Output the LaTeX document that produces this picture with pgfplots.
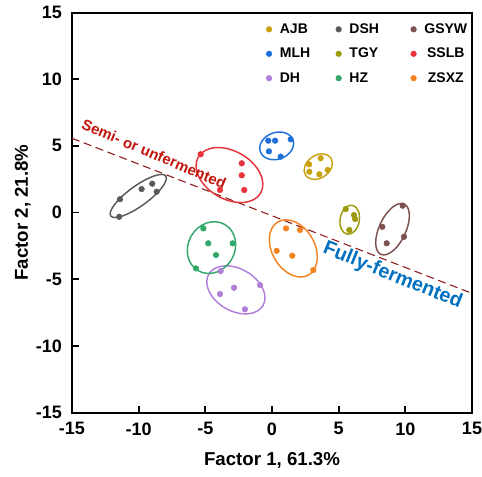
\documentclass[border=0pt]{standalone}
\usepackage{pgfplots}
\pgfplotsset{compat=1.18}
\usepackage{fontspec}
\setmainfont{Liberation Sans}

\definecolor{cAJB}{RGB}{201,160,16}
\definecolor{cDSH}{RGB}{90,90,90}
\definecolor{cGSYW}{RGB}{125,80,80}
\definecolor{cMLH}{RGB}{30,111,217}
\definecolor{cTGY}{RGB}{156,154,10}
\definecolor{cSSLB}{RGB}{232,50,60}
\definecolor{cDH}{RGB}{176,126,216}
\definecolor{cHZ}{RGB}{51,168,107}
\definecolor{cZSXZ}{RGB}{245,130,32}
\definecolor{splitline}{RGB}{139,26,26}
\definecolor{semired}{RGB}{192,20,10}
\definecolor{fullblue}{RGB}{0,112,192}

% confidence ellipse: colour, cx, cy, semi-axes (axis units, 1 unit = 10pt), angle
\newcommand{\grp}[6]{%
  \draw[#1, line width=1.1pt, rotate around={#6:(axis cs:#2,#3)}]
    (axis cs:#2,#3) ellipse [x radius=#4*10pt, y radius=#5*10pt];}

\begin{document}
\begin{tikzpicture}
\begin{axis}[
  scale only axis, width=300pt, height=300pt,
  xmin=-15, xmax=15, ymin=-15, ymax=15,
  xtick={-15,-10,...,15}, ytick={-15,-10,...,15},
  xtick pos=lower, ytick pos=left,
  tick align=inside, major tick length=5pt,
  axis line style={line width=1.5pt},
  tick style={line width=1.3pt, black},
  /pgf/number format/assume math mode=true,
  tick label style={font=\fontsize{13.5}{16}\selectfont\bfseries},
  xticklabel style={yshift=-4pt},
  yticklabel style={xshift=-4pt},
  label style={font=\fontsize{14}{17}\selectfont\bfseries},
  xlabel style={yshift=-6pt},
  ylabel style={yshift=-3pt},
  xlabel={Factor 1, 61.3\%}, ylabel={Factor 2, 21.8\%},
  every axis plot/.append style={only marks, mark=*, mark size=2.1pt},
  legend columns=3,
  legend style={draw=none, fill=none, at={(axis cs:-0.75,14.6)}, anchor=north west,
    font=\fontsize{10.5}{12}\selectfont\bfseries,
    row sep=5.5pt,
    /tikz/every odd column/.append style={column sep=4pt}},
  legend image code/.code={\draw[#1, mark=*, mark size=2.1pt] plot coordinates {(0pt,0pt)};},
]
% boundary between fermentation classes
\addplot[sharp plot, no marks, forget plot, splitline, line width=0.8pt, dash pattern=on 6pt off 3.5pt]
  coordinates {(-15,5.57) (15,-6.06)};

\addplot[cAJB] coordinates {(2.78,3.62) (3.65,4.07) (4.18,3.19) (3.55,2.87) (2.80,3.06)};
\addlegendentry{\makebox[40pt][l]{AJB}}
\addplot[cDSH] coordinates {(-11.40,1.00) (-9.78,1.76) (-8.98,2.16) (-8.65,1.56) (-11.46,-0.32)};
\addlegendentry{\makebox[44pt][l]{DSH}}
\addplot[cGSYW] coordinates {(9.80,0.51) (8.27,-1.07) (9.90,-1.82) (8.60,-2.31)};
\addlegendentry{GSYW}
\addplot[cMLH] coordinates {(-0.28,5.39) (0.23,5.39) (1.40,5.49) (-0.23,4.59) (0.65,4.19)};
\addlegendentry{\makebox[40pt][l]{MLH}}
\addplot[cTGY] coordinates {(5.53,0.26) (6.15,-0.19) (6.23,-0.49) (5.80,-1.31)};
\addlegendentry{\makebox[44pt][l]{TGY}}
\addplot[cSSLB] coordinates {(-5.35,4.37) (-2.27,3.69) (-2.27,2.79) (-2.08,1.69) (-3.90,1.69)};
\addlegendentry{SSLB}
\addplot[cDH] coordinates {(-3.85,-4.39) (-0.90,-5.44) (-2.85,-5.64) (-3.90,-6.11) (-2.03,-7.26)};
\addlegendentry{\makebox[40pt][l]{DH}}
\addplot[cHZ] coordinates {(-5.15,-1.19) (-4.78,-2.31) (-2.95,-2.31) (-4.20,-3.19) (-5.70,-4.19)};
\addlegendentry{\makebox[44pt][l]{HZ}}
\addplot[cZSXZ] coordinates {(1.05,-1.19) (2.10,-1.31) (0.35,-2.87) (1.52,-3.24) (3.10,-4.31)};
\addlegendentry{ZSXZ}

\grp{cAJB}{3.47}{3.44}{1.15}{0.85}{35}
\grp{cDSH}{-10.03}{1.24}{2.55}{0.75}{36}
\grp{cGSYW}{9.04}{-1.25}{2.08}{1.0}{65}
\grp{cMLH}{0.35}{5.0}{1.3}{1.0}{20}
\grp{cTGY}{5.83}{-0.54}{1.1}{0.72}{80}
\grp{cSSLB}{-3.19}{2.81}{2.7}{1.8}{-30}
\grp{cDH}{-2.71}{-5.8}{2.35}{1.58}{-30}
\grp{cHZ}{-4.54}{-2.63}{2.0}{1.75}{60}
\grp{cZSXZ}{1.6}{-2.69}{2.3}{1.6}{-60}

\node[semired, rotate=-23, font=\fontsize{11.25}{13}\selectfont\bfseries]
  at (axis cs:-8.85,4.4) {Semi- or unfermented};
\node[fullblue, rotate=-22, font=\fontsize{14.8}{17}\selectfont\bfseries]
  at (axis cs:9.04,-4.75) {Fully-fermented};
\end{axis}
\pgfresetboundingbox
\path[use as bounding box] ([shift={(-54pt,-48.2pt)}]current axis.south west)
  rectangle ([shift={(7.5pt,9.4pt)}]current axis.north east);
\end{tikzpicture}
\end{document}
